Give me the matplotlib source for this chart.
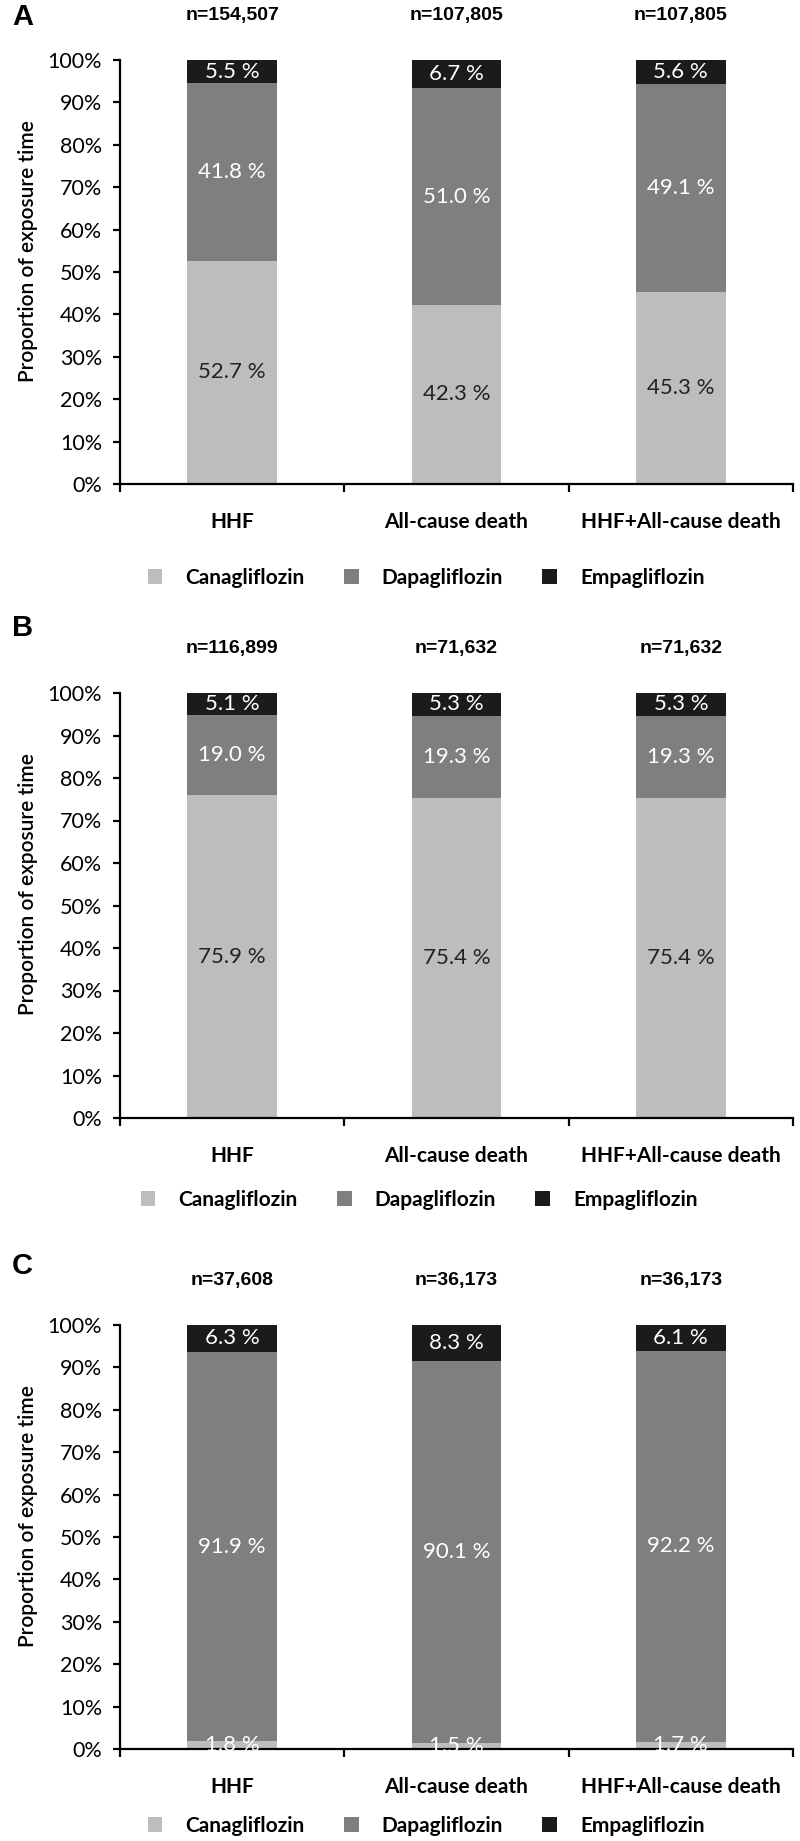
import matplotlib
matplotlib.use("Agg")
import matplotlib.pyplot as plt
from matplotlib.patches import Patch

plt.rcParams['font.family'] = ['Lato', 'DejaVu Sans']

categories = ["HHF", "All-cause death", "HHF+All-cause death"]
drugs = ["Canagliflozin", "Dapagliflozin", "Empagliflozin"]
colors = ["#bdbdbd", "#7f7f7f", "#1b1b1b"]
panel_letters = ["A", "B", "C"]

# proportion of exposure time (%), per panel
cana_a = [52.7, 42.3, 45.3]
dapa_a = [41.8, 51.0, 49.1]
empa_a = [5.5, 6.7, 5.6]
n_a = ["n=154,507", "n=107,805", "n=107,805"]

cana_b = [75.9, 75.4, 75.4]
dapa_b = [19.0, 19.3, 19.3]
empa_b = [5.1, 5.3, 5.3]
n_b = ["n=116,899", "n=71,632", "n=71,632"]

cana_c = [1.8, 1.5, 1.7]
dapa_c = [91.9, 90.1, 92.2]
empa_c = [6.3, 8.3, 6.1]
n_c = ["n=37,608", "n=36,173", "n=36,173"]

panels = [
    (cana_a, dapa_a, empa_a, n_a),
    (cana_b, dapa_b, empa_b, n_b),
    (cana_c, dapa_c, empa_c, n_c),
]

W, H = 800, 1841
fig = plt.figure(figsize=(W / 100, H / 100), dpi=100)

# pixel layout: (top of axis, bottom of axis, letter y, legend y, legend x shift)
layout = [(60, 484, 17, 578, 0), (693, 1118, 628, 1200, -7), (1325, 1749, 1266, 1826, 0)]
left_px, right_px = 120, 793

narrow = ['Liberation Sans Narrow', 'Liberation Sans', 'DejaVu Sans']

for (cana, dapa, empa, nlab), (top, bot, ly, legy, lx), letter in zip(panels, layout, panel_letters):
    ax = fig.add_axes([left_px / W, 1 - bot / H, (right_px - left_px) / W, (bot - top) / H])
    x = list(range(len(categories)))
    bottoms = [0, 0, 0]
    for k, (vals, col) in enumerate(zip([cana, dapa, empa], colors)):
        ax.bar(x, vals, width=0.4, bottom=bottoms, color=col, zorder=2)
        if k == 0 and letter != "C":
            tc = "#222222"
        else:
            tc = "white"
        for xi, b, v in zip(x, bottoms, vals):
            ax.text(xi, b + v / 2, f"{v:.1f} %", ha="center", va="center",
                    color=tc, fontsize=16, zorder=3)
        bottoms = [b + v for b, v in zip(bottoms, vals)]

    for xi, t in zip(x, nlab):
        ax.annotate(t, xy=(xi, 100), xytext=(0, 32), textcoords="offset points",
                    ha="center", va="center", fontsize=14, fontweight="bold",
                    family=narrow, annotation_clip=False)

    ax.set_xlim(-0.5, 2.5)
    ax.set_ylim(0, 100)
    ax.set_yticks(range(0, 101, 10))
    ax.set_yticklabels([f"{v}%" for v in range(0, 101, 10)], fontsize=15.5)
    ax.set_xticks(x)
    ax.set_xticklabels(categories, fontsize=15, fontweight="bold")
    ax.set_xticks([-0.5, 0.5, 1.5, 2.5], minor=True)
    ax.tick_params(axis="x", which="major", length=0, pad=20)
    ax.tick_params(axis="x", which="minor", length=6, width=1.6, direction="out")
    ax.tick_params(axis="y", length=5, width=1.6, direction="out", pad=8)
    for s in ["top", "right"]:
        ax.spines[s].set_visible(False)
    for s in ["left", "bottom"]:
        ax.spines[s].set_linewidth(1.6)
    ax.set_ylabel("Proportion of exposure time", fontsize=15, fontweight="semibold")
    ax.yaxis.set_label_coords(-0.122, 0.55)

    fig.text(12 / W, 1 - ly / H, letter, fontsize=21, fontweight="bold",
             family=['Liberation Sans', 'DejaVu Sans'], va="center", ha="left")

    handles = [Patch(facecolor=c, edgecolor="none") for c in colors]
    ax.legend(handles, drugs, loc="center", ncol=3, frameon=False,
              bbox_to_anchor=((426 + lx) / W, 1 - legy / H), bbox_transform=fig.transFigure,
              prop={"size": 15, "weight": "bold"}, handlelength=0.7, handleheight=0.7,
              handletextpad=1.1, columnspacing=1.9)

fig.savefig("out.png", dpi=100)
